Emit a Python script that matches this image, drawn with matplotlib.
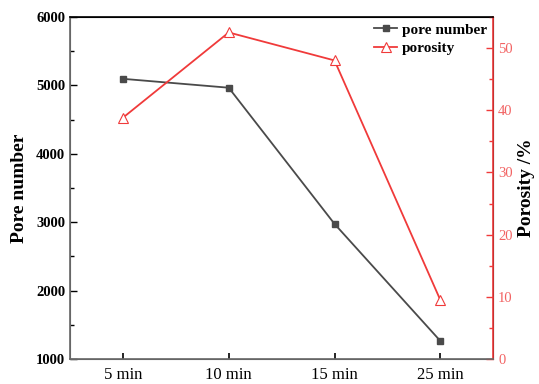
import matplotlib.pyplot as plt
from matplotlib.ticker import MultipleLocator

plt.rcParams['font.family'] = ['Liberation Serif', 'DejaVu Serif']

times = ['5 min', '10 min', '15 min', '25 min']
pore_number = [5095, 4965, 2975, 1265]
porosity = [38.8, 52.5, 48.0, 9.5]

GRAY = '#4a4a4a'
RED = '#f03a3a'

fig = plt.figure(figsize=(5.39, 3.84), dpi=100)
ax = fig.add_axes([0.130, 0.065, 0.785, 0.891])
ax2 = ax.twinx()

x = list(range(len(times)))
l1, = ax.plot(x, pore_number, color=GRAY, lw=1.3, marker='s', ms=5,
              label='pore number')
l2, = ax2.plot(x, porosity, color=RED, lw=1.3, marker='^', ms=6.5,
               mfc='white', mec=RED, mew=0.8, label='porosity')

ax.set_xlim(-0.5, 3.5)
ax.set_ylim(1000, 6000)
ax2.set_ylim(0, 55)
ax.set_xticks(x)
ax.set_xticklabels(times, fontsize=12)
ax.yaxis.set_major_locator(MultipleLocator(1000))
ax.yaxis.set_minor_locator(MultipleLocator(500))
ax2.yaxis.set_major_locator(MultipleLocator(10))
ax2.yaxis.set_minor_locator(MultipleLocator(5))

ax.tick_params(axis='both', which='both', direction='in')
ax.tick_params(axis='x', length=4, width=1.2, pad=6)
ax.tick_params(axis='y', which='major', length=5, width=1, labelsize=10.5, colors='black')
ax.tick_params(axis='y', which='minor', length=3, width=1)
for lab in ax.get_yticklabels():
    lab.set_fontweight('bold')
ax2.tick_params(axis='y', which='both', direction='in', colors=RED, labelsize=10.5)
ax2.tick_params(axis='y', which='major', length=5, width=1)
ax2.tick_params(axis='y', which='minor', length=3, width=1)
for lab in ax2.get_yticklabels():
    lab.set_color('#f26363')

ax.spines['left'].set_color('#666666')
ax.spines['bottom'].set_color('#666666')
ax2.spines['left'].set_color('#666666')
ax2.spines['bottom'].set_color('#666666')
ax2.spines['top'].set_color('black')
ax2.spines['right'].set_color(RED)
for s in ax2.spines.values():
    s.set_linewidth(1.2)

ax.set_ylabel('Pore number', fontsize=14, fontweight='bold', labelpad=6)
ax2.set_ylabel('Porosity /%', fontsize=14, fontweight='bold', labelpad=4)

ax2.legend([l1, l2], ['pore number', 'porosity'], loc='upper right',
           frameon=False, prop={'weight': 'bold', 'size': 11},
           handlelength=1.5, handletextpad=0.3, borderaxespad=0.0,
           labelspacing=0.3)

plt.savefig('out.png', dpi=100)
